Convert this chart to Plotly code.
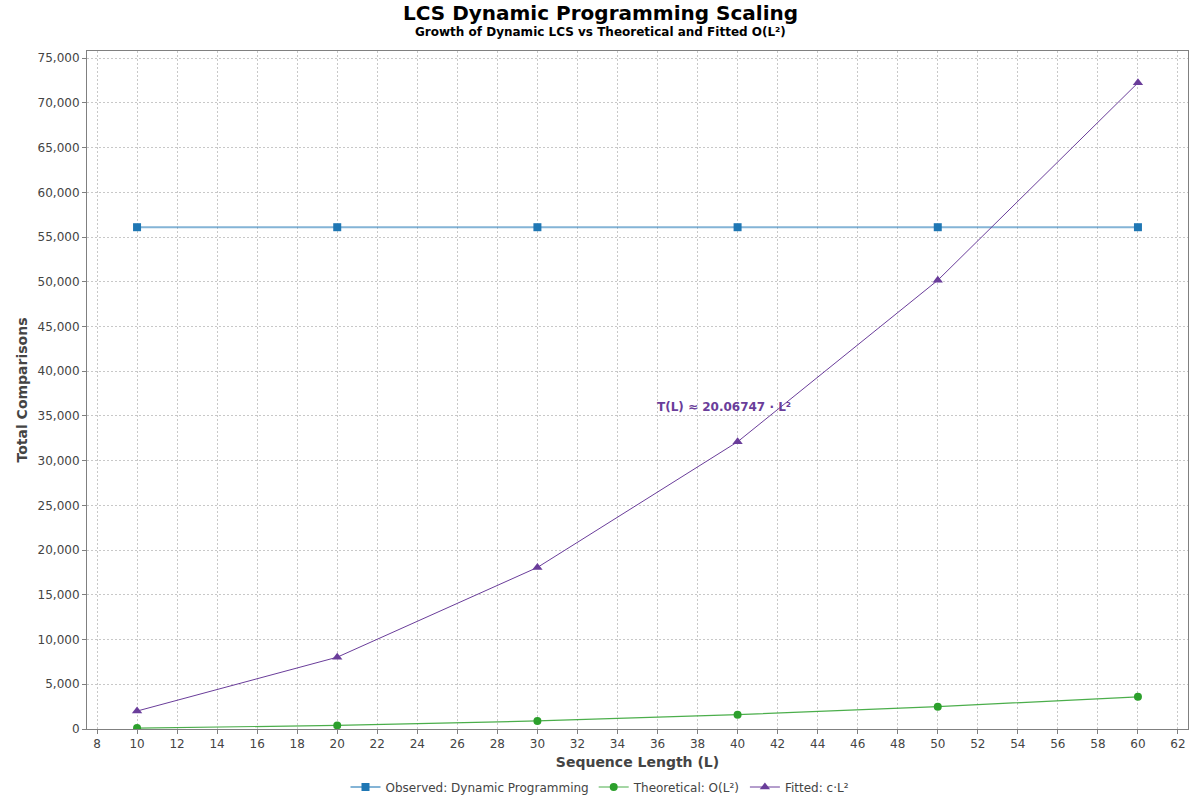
import plotly.graph_objects as go

lengths = [10, 20, 30, 40, 50, 60]
observed = [56100, 56100, 56100, 56100, 56100, 56100]
theoretical = [100, 400, 900, 1600, 2500, 3600]
fitted = [2006.7, 8027.0, 18061.0, 32108.0, 50168.7, 72242.9]
fit_label = "T(L) ≈ 20.06747 · L²"
title_text = "LCS Dynamic Programming Scaling"
subtitle_text = "Growth of Dynamic LCS vs Theoretical and Fitted O(L²)"

FONT = "DejaVu Sans"
W, H = 1200, 800
L, R, T, B = 87, 12, 51, 71
PH = H - T - B
PW = W - L - R


def py(screen_y):
    return (H - B - screen_y) / PH


def px(screen_x):
    return (screen_x - L) / PW


fig = go.Figure()
fig.add_trace(go.Scatter(x=lengths, y=observed, mode="lines+markers",
                         name="Observed: Dynamic Programming",
                         line=dict(color="rgba(31,119,180,0.55)", width=2),
                         marker=dict(symbol="square", size=8, color="#1f77b4")))
fig.add_trace(go.Scatter(x=lengths, y=theoretical, mode="lines+markers",
                         name="Theoretical: O(L²)",
                         line=dict(color="rgba(44,160,44,0.85)", width=1.2),
                         marker=dict(symbol="circle", size=8, color="#2ca02c")))
fig.add_trace(go.Scatter(x=lengths, y=fitted, mode="lines+markers",
                         name="Fitted: c·L²",
                         line=dict(color="#6a3d9a", width=1),
                         marker=dict(symbol="triangle-up", size=9, color="#6a3d9a")))

fig.add_annotation(x=39.3, y=36000, text="<b>" + fit_label + "</b>", showarrow=False,
                   font=dict(family=FONT, size=12, color="#6a3d9a"))
fig.add_annotation(xref="paper", yref="paper", x=px(600), y=py(13), yanchor="middle",
                   text="<b>" + title_text + "</b>", showarrow=False,
                   font=dict(family=FONT, size=20, color="black"))
fig.add_annotation(xref="paper", yref="paper", x=px(600), y=py(32), yanchor="middle",
                   text="<b>" + subtitle_text + "</b>", showarrow=False,
                   font=dict(family=FONT, size=12, color="black"))

fig.update_layout(
    width=W, height=H,
    paper_bgcolor="white", plot_bgcolor="white",
    font=dict(family=FONT, size=12, color="#444444"),
    margin=dict(l=L, r=R, t=T, b=B, autoexpand=False),
    legend=dict(orientation="h", x=0.5, xanchor="center", xref="container",
                y=(800 - 787) / H, yanchor="middle", yref="container",
                font=dict(family=FONT, size=12, color="#444444"),
                itemwidth=30, tracegroupgap=0),
    showlegend=True,
)
fig.update_xaxes(range=[7.5, 62.5], dtick=2, tick0=8, automargin=False,
                 showgrid=True, gridcolor="#c8c8c8", griddash="2px,2px", gridwidth=1,
                 showline=True, linecolor="#808080", mirror=True,
                 ticks="outside", ticklen=4, tickcolor="#808080",
                 zeroline=False,
                 title=dict(text="<b>Sequence Length (L)</b>", font=dict(family=FONT, size=14, color="#444444"), standoff=6))
fig.update_yaxes(range=[0, 75800], dtick=5000, tickformat=",d", automargin=False,
                 showgrid=True, gridcolor="#c8c8c8", griddash="2px,2px", gridwidth=1,
                 showline=True, linecolor="#808080", mirror=True,
                 ticks="outside", ticklen=4, tickcolor="#808080",
                 zeroline=False,
                 title=dict(text="<b>Total Comparisons</b>", font=dict(family=FONT, size=14, color="#444444"), standoff=6))

fig.write_html("out.html", config={"displayModeBar": False},
               post_script="document.body.style.margin='0';document.body.style.overflow='hidden';")
